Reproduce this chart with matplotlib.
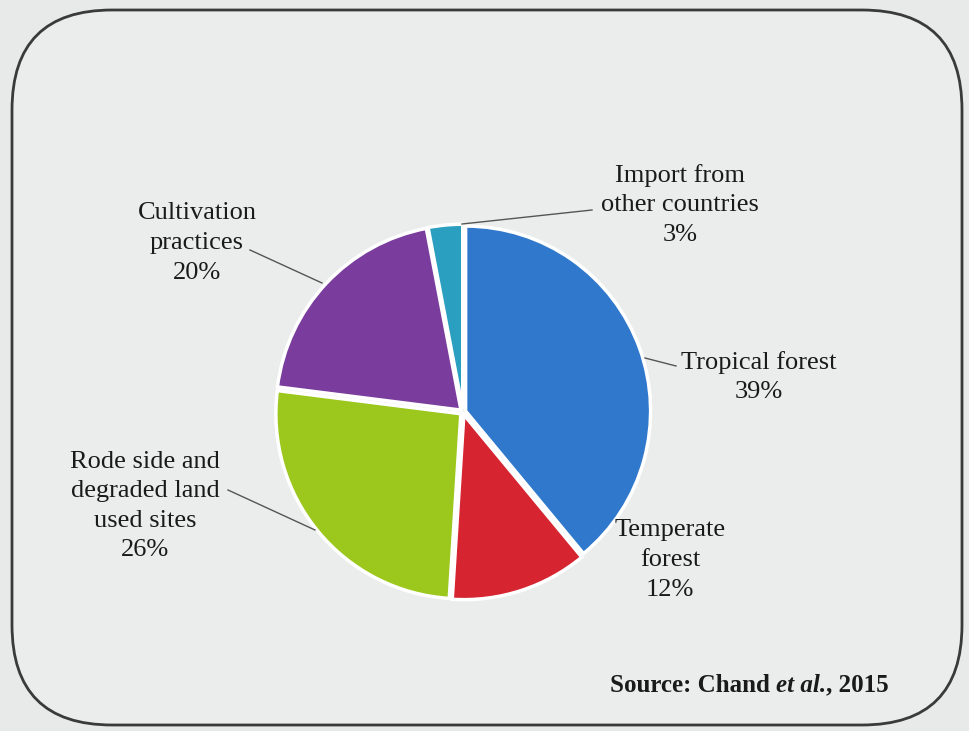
import matplotlib.pyplot as plt
from matplotlib.patches import FancyBboxPatch

# Data
labels = ['Tropical forest', 'Temperate\nforest', 'Rode side and\ndegraded land\nused sites',
          'Cultivation\npractices', 'Import from\nother countries']
shares = [39, 12, 26, 20, 3]
colors = ['#2f78cc', '#d62430', '#9cc81e', '#7a3d9e', '#2a9fbf']

W, H = 969, 731
fig = plt.figure(figsize=(W / 100, H / 100), dpi=100)
fig.patch.set_facecolor('#e8e9e9')

# background axes in pixel coordinates
bg = fig.add_axes([0, 0, 1, 1])
bg.set_xlim(0, W)
bg.set_ylim(H, 0)
bg.axis('off')
frame = FancyBboxPatch((112, 110), 750, 515, boxstyle='round,pad=100,rounding_size=100',
                       fc='#ebecec', ec='#3a3a3a', lw=2)
bg.add_patch(frame)

# pie axes
cx, cy, r = 463, 412, 185
ax = fig.add_axes([(cx - r) / W, (H - cy - r) / H, 2 * r / W, 2 * r / H])
ax.pie(shares, colors=colors, startangle=90, counterclock=False,
       explode=[0.015] * 5, wedgeprops=dict(edgecolor='white', linewidth=2.5))
ax.set_xlim(-1, 1)
ax.set_ylim(-1, 1)
ax.set_aspect('auto')

font = dict(family='Liberation Serif', fontsize=19, color='#1a1a1a', ha='center', va='center',
            linespacing=1.45)


def px(x, y):
    return ((x - cx) / r, (cy - y) / r)


def label(i, tx, ty, p0=None, p1=None):
    ax.text(*px(tx, ty), labels[i] + '\n%d%%' % shares[i], **font)
    if p0 is not None:
        x0, y0 = px(*p0)
        x1, y1 = px(*p1)
        ax.plot([x0, x1], [y0, y1], color='#555555', lw=1, clip_on=False)


label(0, 759, 377, (645, 358), (676, 366))
label(1, 670, 560)
label(2, 145, 506, (228, 490), (315, 530))
label(3, 197, 243, (250, 250), (322, 283))
label(4, 680, 205, (462, 224), (592, 210))

# source line, pieced together
renderer = fig.canvas.get_renderer()
x = 610
for part, st in [('Source: Chand ', 'normal'), ('et al.', 'italic'), (', 2015', 'normal')]:
    t = bg.text(x, 685, part, family='Liberation Serif', fontsize=18, fontweight='bold',
                style=st, ha='left', va='center', color='#1a1a1a')
    bb = t.get_window_extent(renderer)
    x += bb.width

fig.savefig('out.png', dpi=100, facecolor=fig.get_facecolor())
